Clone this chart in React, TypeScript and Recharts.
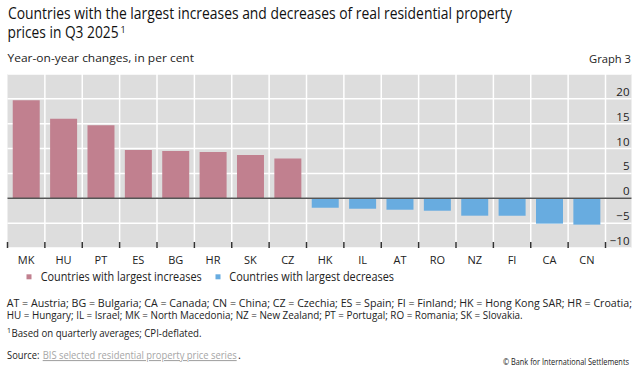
import React from "react";
import { BarChart, Bar, XAxis, YAxis, CartesianGrid, ReferenceLine } from "recharts";

const FONT = "'Open Sans', 'Noto Sans', sans-serif";

// country codes, left to right
const CATEGORIES = ["MK", "HU", "PT", "ES", "BG", "HR", "SK", "CZ", "HK", "IL", "AT", "RO", "NZ", "FI", "CA", "CN"];
// year-on-year change, per cent
const INCREASES = [19.7, 16.0, 14.7, 9.7, 9.5, 9.3, 8.7, 8.0, null, null, null, null, null, null, null, null];
const DECREASES = [null, null, null, null, null, null, null, null, -1.9, -2.1, -2.3, -2.5, -3.5, -3.5, -5.1, -5.3];
const Y_TICKS = [-10, -5, 0, 5, 10, 15, 20];
const Y_DOMAIN = [-10, 25];

const SERIES = [
  { key: "inc", name: "Countries with largest increases", color: "#c1808f" },
  { key: "dec", name: "Countries with largest decreases", color: "#68ace0" },
];

const data = CATEGORIES.map((c, i) => ({ cat: c, inc: INCREASES[i], dec: DECREASES[i] }));

// plot geometry
const W = 640;
const H = 270;
const M_LEFT = 7.5;
const Y_W = 1; // axis must have a non-zero width or recharts skips it
const M_RIGHT = 7.5;
const PAD_RIGHT = 26;
const BAND = (W - M_LEFT - M_RIGHT - Y_W - PAD_RIGHT) / CATEGORIES.length;

const fmt = (v: number) => (v < 0 ? `\u2212${Math.abs(v)}` : `${v}`);

function XTick(props: any) {
  const { x, y, payload, index } = props;
  const left = x - BAND / 2;
  const right = x + BAND / 2;
  return (
    <g>
      <line x1={left} x2={left} y1={y - 6} y2={y} stroke="#333" strokeWidth={1.5} />
      {index === CATEGORIES.length - 1 && (
        <line x1={right} x2={right} y1={y - 6} y2={y} stroke="#333" strokeWidth={1.5} />
      )}
      <text x={x} y={y + 15.5} textAnchor="middle" fontSize={11} fill="#222" fontFamily={FONT}>
        {payload.value}
      </text>
    </g>
  );
}

function YTick(props: any) {
  const { x, y, payload } = props;
  return (
    <text x={x - 2} y={y - 3} textAnchor="end" fontSize={11.5} fill="#222" fontFamily={FONT}>
      {fmt(payload.value)}
    </text>
  );
}

function Fit({ x, y, w, size, anchor, fill, children, deco }: any) {
  return (
    <text
      x={x}
      y={y}
      textLength={w}
      lengthAdjust="spacingAndGlyphs"
      fontSize={size}
      textAnchor={anchor ?? "start"}
      fill={fill ?? "#111"}
      fontFamily={FONT}
      style={deco ? { textDecoration: "underline" } : undefined}
    >
      {children}
    </text>
  );
}

export default function App() {
  return (
    <div style={{ position: "absolute", left: 0, top: 0, width: W, height: 369, background: "#fff" }}>
      <div style={{ position: "absolute", left: 0, top: 0 }}>
        <BarChart
          width={W}
          height={H}
          data={data}
          margin={{ top: 74, right: M_RIGHT, bottom: 0, left: M_LEFT }}
          barCategoryGap="14%"
        >
          <CartesianGrid
            fill="#dddddd"
            stroke="#ffffff"
            strokeWidth={1.5}
            verticalCoordinatesGenerator={({ offset }: any) => {
              const left = offset?.left ?? M_LEFT;
              return CATEGORIES.map((_, i) => left + (i + 1) * BAND);
            }}
          />
          <XAxis
            dataKey="cat"
            axisLine={false}
            tickLine={false}
            tickSize={0}
            tickMargin={0}
            height={22}
            interval={0}
            padding={{ left: 0, right: PAD_RIGHT }}
            tick={<XTick />}
          />
          <YAxis
            orientation="right"
            width={Y_W}
            domain={Y_DOMAIN}
            ticks={Y_TICKS}
            axisLine={false}
            tickLine={false}
            tickSize={0}
            tickMargin={0}
            tick={<YTick />}
          />
          {SERIES.map((s) => (
            <Bar key={s.key} dataKey={s.key} name={s.name} stackId="a" fill={s.color} isAnimationActive={false} />
          ))}
          <ReferenceLine y={0} stroke="#555" strokeWidth={1.5} />
        </BarChart>
      </div>
      <svg width={W} height={369} style={{ position: "absolute", left: 0, top: 0, pointerEvents: "none" }}>
        <Fit x={8} y={19} w={504} size={16.5}>
          Countries with the largest increases and decreases of real residential property
        </Fit>
        <Fit x={7.5} y={37.5} w={111} size={16.5}>
          prices in Q3 2025
        </Fit>
        <text x={120.5} y={32.5} fontSize={9} fill="#111" fontFamily={FONT}>1</text>
        <Fit x={7.5} y={62} w={186.5} size={11.5} fill="#222">
          Year-on-year changes, in per cent
        </Fit>
        <Fit x={631} y={62.5} w={42} size={11.5} anchor="end" fill="#222">
          Graph 3
        </Fit>

        {/* legend */}
        <rect x={26.5} y={274.3} width={5} height={5} fill={SERIES[0].color} />
        <Fit x={40.7} y={281} w={161} size={12} fill="#222">{SERIES[0].name}</Fit>
        <rect x={215.5} y={274.3} width={5} height={5} fill={SERIES[1].color} />
        <Fit x={229.3} y={281} w={164.7} size={12} fill="#222">{SERIES[1].name}</Fit>

        {/* notes */}
        <Fit x={6.7} y={306.7} w={625.3} size={11} fill="#222">
          AT = Austria; BG = Bulgaria; CA = Canada; CN = China; CZ = Czechia; ES = Spain; FI = Finland; HK = Hong Kong SAR; HR = Croatia;
        </Fit>
        <Fit x={6.7} y={319.3} w={516} size={11} fill="#222">
          HU = Hungary; IL = Israel; MK = North Macedonia; NZ = New Zealand; PT = Portugal; RO = Romania; SK = Slovakia.
        </Fit>
        <text x={7} y={333} fontSize={7} fill="#222" fontFamily={FONT}>1</text>
        <Fit x={11.5} y={336.7} w={190} size={11} fill="#222">
          Based on quarterly averages; CPI-deflated.
        </Fit>
        <Fit x={7} y={359} w={32.5} size={11} fill="#222">Source:</Fit>
        <Fit x={42.7} y={359} w={194} size={11} fill="#a6a6a6" deco>
          BIS selected residential property price series
        </Fit>
        <text x={238} y={359} fontSize={11} fill="#222" fontFamily={FONT}>.</text>
        <Fit x={503} y={365} w={126} size={8.5} fill="#222">
          © Bank for International Settlements
        </Fit>
      </svg>
    </div>
  );
}
